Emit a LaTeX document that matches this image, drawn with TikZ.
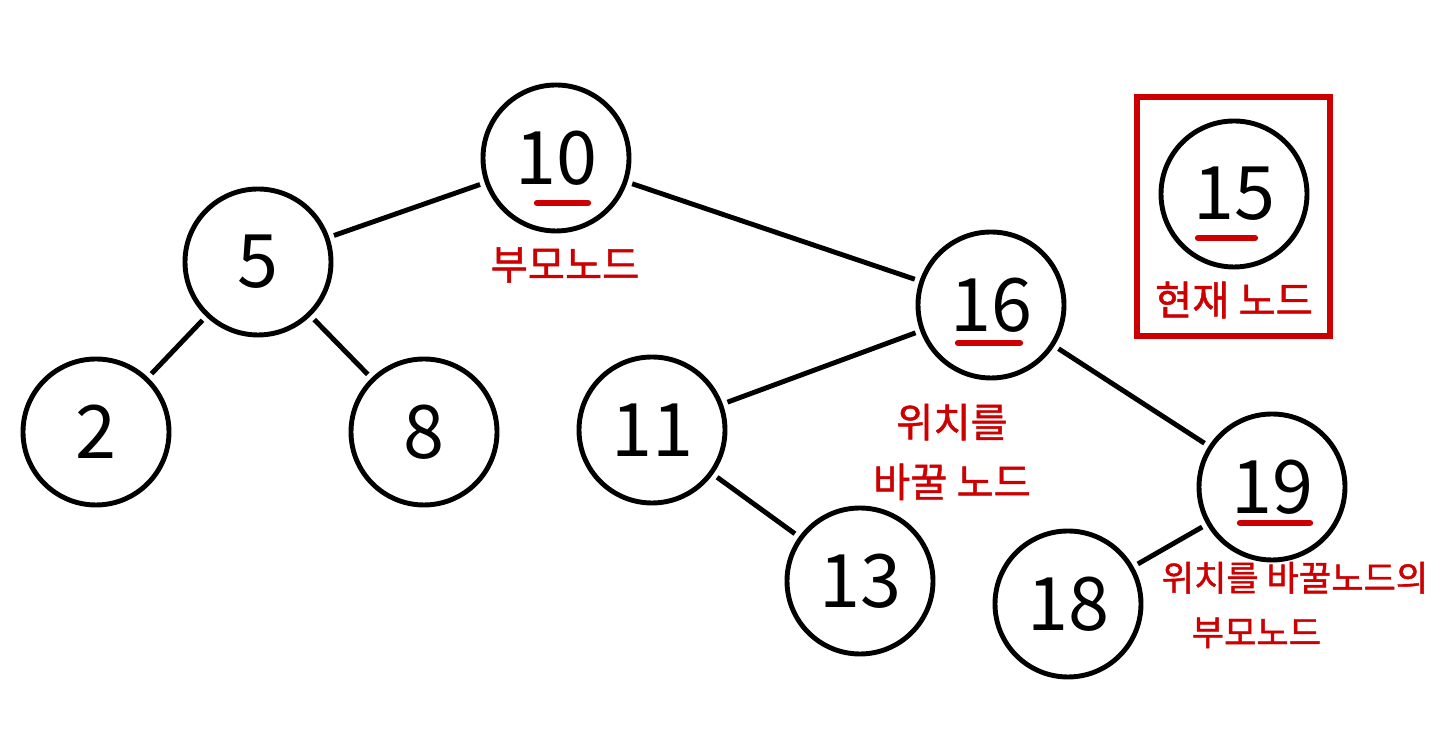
\documentclass[tikz,border=0pt]{standalone}
\usepackage{fontspec}
\setmainfont{Noto Sans CJK KR}
\newfontfamily\notefont[FakeBold=1.2]{Noto Sans CJK KR}
\usetikzlibrary{positioning}

\begin{document}
\begin{tikzpicture}[x=1cm, y=1cm,
    treenode/.style={circle, draw, line width=1.4pt, minimum size=1.46cm, inner sep=0pt,
        font=\fontsize{21}{24}\selectfont},
    edge/.style={line width=1.4pt, shorten >=0.05cm, shorten <=0.05cm},
    note/.style={text=red!80!black, font=\notefont\fontsize{11.5}{17}\selectfont, align=center},
    redline/.style={line width=1.8pt, red!80!black, line cap=round}
]
\useasboundingbox (0,0) rectangle (14.4,7.45);

% Tree nodes
\node[treenode] (n10) at (5.56,5.87) {10};
\node[treenode] (n5)  at (2.58,4.83) {5};
\node[treenode] (n2)  at (0.96,3.13) {2};
\node[treenode] (n8)  at (4.24,3.13) {8};
\node[treenode] (n16) at (9.91,4.40) {16};
\node[treenode] (n11) at (6.52,3.15) {11};
\node[treenode] (n13) at (8.60,1.64) {13};
\node[treenode] (n19) at (12.72,2.58) {19};
\node[treenode] (n18) at (10.68,1.41) {18};

% Edges
\draw[edge] (n10) -- (n5);
\draw[edge] (n10) -- (n16);
\draw[edge] (n5) -- (n2);
\draw[edge] (n5) -- (n8);
\draw[edge] (n16) -- (n11);
\draw[edge] (n16) -- (n19);
\draw[edge] (n11) -- (n13);
\draw[edge] (n19) -- (n18);

% Current node in a box
\node[treenode] (n15) at (12.34,5.51) {15};
\node[note] (cur) at (12.34,4.45) {현재 노드};
\draw[red!80!black, line width=1.6pt] (11.37,6.48) rectangle (13.30,4.09);

% Red underlines
\draw[redline] ([xshift=-0.19cm, yshift=-0.45cm]n10.center) -- ([xshift=0.32cm, yshift=-0.45cm]n10.center);
\draw[redline] ([xshift=-0.33cm, yshift=-0.38cm]n16.center) -- ([xshift=0.29cm, yshift=-0.38cm]n16.center);
\draw[redline] ([xshift=-0.36cm, yshift=-0.44cm]n15.center) -- ([xshift=0.21cm, yshift=-0.44cm]n15.center);
\draw[redline] ([xshift=-0.32cm, yshift=-0.36cm]n19.center) -- ([xshift=0.38cm, yshift=-0.36cm]n19.center);

% Notes
\node[note] (parent) at (5.65,4.80) {부모노드};
\node[note] (swap) at (9.52,2.93) {위치를\\바꿀 노드};
\node[note, font=\notefont\fontsize{10}{15.5}\selectfont, align=left] (swapparent) at (12.95,1.40)
    {위치를 바꿀노드의\\\hspace{0.3cm}부모노드};

\end{tikzpicture}
\end{document}
